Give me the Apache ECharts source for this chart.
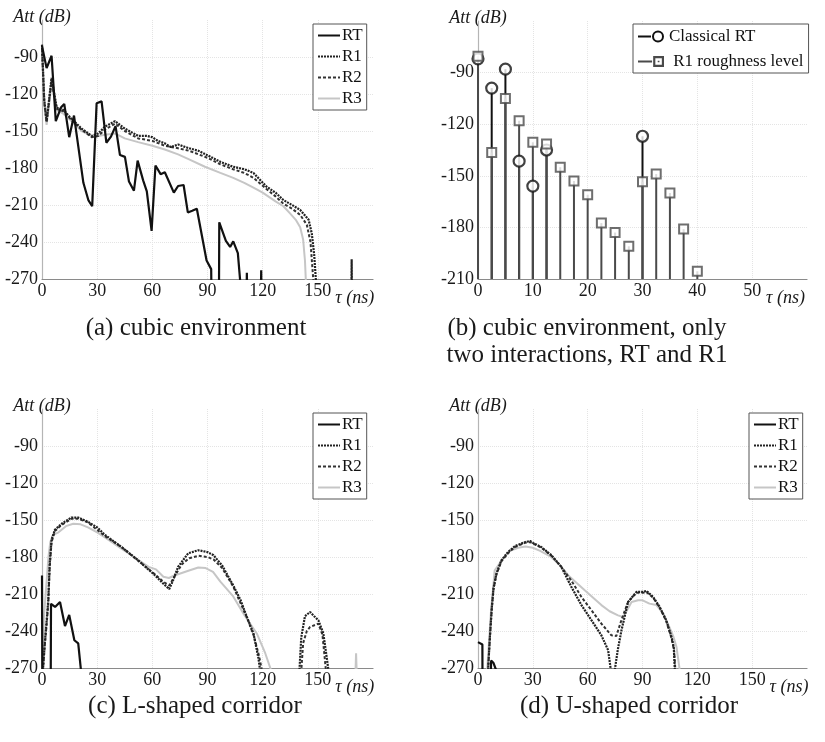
<!DOCTYPE html>
<html>
<head>
<meta charset="utf-8">
<script src="https://cdn.jsdelivr.net/npm/echarts@6/dist/echarts.min.js"></script>
<style>
  html, body { margin: 0; padding: 0; background: #fff; }
  #chart { width: 825px; height: 742px; }
</style>
</head>
<body>
<div id="chart"></div>
<script>
// (a) cubic environment  [tau ns, att dB]
const aRT = [[0,-81],[2.5,-99],[5.2,-89],[7.5,-142],[10.3,-131],[12.1,-128],[14.8,-155],[17.4,-137.5],[22.5,-192],[25.2,-206],[27.3,-211],[29.7,-127.5],[32.4,-126],[35,-159.5],[37.5,-154.6],[40,-146],[42.4,-169.5],[45.1,-171],[47.3,-191],[50,-198.4],[52,-174],[55,-190],[57,-199],[59.6,-231],[61.7,-178],[64.5,-185],[66.8,-183.5],[71.7,-200],[74,-194.6],[77,-193.8],[79.3,-216],[81.7,-214.6],[84.2,-213],[89.5,-255],[92,-262],[92.3,-300],[96.2,-300],[96.4,-224],[100,-239],[102.3,-244],[104,-239.5],[106.5,-249],[107.8,-272],[111.1,-300],[111.4,-265],[111.7,-300],[118.9,-300],[119.2,-263],[119.5,-300]];
const aR1 = [[0,-80],[1.2,-124],[2.5,-142],[5.2,-107],[8,-131],[11.6,-133],[16,-140],[21.5,-148],[27,-154],[30.6,-152],[34.2,-146.5],[39.7,-142],[45,-148],[52.3,-154],[57,-154],[60,-155],[63,-158],[66.8,-160],[70,-163],[74,-161],[80,-164],[85,-166],[90.4,-170],[97,-175],[104,-179],[110,-181],[115,-184],[122,-195],[127,-200],[131.3,-206],[136,-210],[140.4,-214],[145,-222],[146.7,-233],[148,-250],[149,-272],[168.2,-300],[168.4,-254],[168.6,-300]];
const aR2 = [[0,-83],[1.2,-126],[2.5,-143],[5.2,-109],[8,-132],[11.6,-134],[16,-141],[21.5,-149],[27,-155],[30.6,-154],[34.2,-149],[39.7,-144],[45,-150],[52.3,-156],[60,-158],[66.8,-162],[74,-164],[80,-166],[90.4,-172],[97,-177],[104,-181],[110,-184],[115,-188],[122,-197],[127,-203],[131.3,-209],[136,-213],[140.4,-218],[144,-226],[146,-240],[147.6,-272]];
const aR3 = [[0,-85],[1.2,-128],[2.5,-145],[5.2,-112],[8,-133],[11.6,-136],[16,-142],[21.5,-150],[27,-154],[30.6,-154],[34.2,-153],[39.7,-152],[45,-156],[52.3,-159],[60,-162],[66.8,-165],[74,-169],[80,-173],[88.6,-179],[97,-184],[104,-188],[110,-192],[115,-196],[120,-200],[127,-207],[131.3,-211],[135,-217],[138,-222],[140.4,-228],[142,-238],[143,-255],[143.5,-272]];

// (b) two interactions, stems
const bTauRT = [0, 2.5, 5, 7.5, 10, 12.5, 30];
const bAttRT = [-82, -99, -88, -141.5, -156, -135, -127];
const bTauR1 = [0, 2.5, 5, 7.5, 10, 12.5, 15, 17.5, 20, 22.5, 25, 27.5, 30, 32.5, 35, 37.5, 40];
const bAttR1 = [-80.5, -136.5, -105, -118, -130.5, -131.5, -145, -153, -161, -177.5, -183, -191, -153.5, -149, -160, -181, -205.5];

// (c) L-shaped corridor
const cRT = [[0,-195],[0.2,-300],[4.7,-300],[4.9,-218],[7.1,-220.5],[9.8,-216.5],[12.5,-236],[14.8,-227],[17.6,-247.5],[19.7,-250],[21.2,-272]];
const cR1 = [[0.5,-272],[1.5,-250],[2.5,-232],[3.4,-215],[4.2,-185],[5.2,-166],[7,-158],[10.7,-153],[16,-148],[19.7,-148],[25,-151.5],[30,-156],[34.2,-162],[43.3,-172],[52.3,-182.7],[61.4,-194.8],[65.9,-201.5],[69.2,-206],[71,-200],[74,-188],[79.5,-177],[85,-174.5],[90,-176],[93.3,-178.6],[98,-187],[104,-203],[108,-215],[111.4,-228.6],[115,-242],[117.7,-262],[118.6,-272],[140,-272],[141,-245],[143,-228],[145.8,-224.6],[148,-228],[150.3,-231.3],[153,-242],[154.5,-258],[155.8,-272]];
const cR2 = [[0.5,-272],[1.5,-252],[2.5,-235],[3.4,-218],[4.2,-188],[5.2,-168],[7,-159],[10.7,-154],[16,-149],[19.7,-149],[25,-152],[34.2,-163],[43.3,-172],[52.3,-183],[61.4,-194],[65.9,-200],[69.2,-203],[72,-196],[76,-186],[80,-181],[85,-179],[90,-180],[93.3,-182],[98,-189],[104,-204],[111.4,-229],[115,-243],[118,-260],[119.6,-272],[141,-272],[142,-250],[144,-240],[145.8,-236.7],[150.3,-234],[152.5,-243],[153.5,-258],[154.4,-272]];
const cR3 = [[0.3,-272],[1,-230],[2.5,-200],[3.5,-180],[4.5,-168],[6,-162],[9,-160],[13,-155],[17,-153],[21,-153.5],[25,-156],[30,-160],[34,-164],[43,-173],[52,-182],[58,-188],[62,-190],[66,-196],[69,-197],[72,-195],[76,-193],[80,-191],[85,-188.5],[89,-189],[93,-192],[97,-200],[104,-212],[110,-227],[116.8,-242],[121.4,-258],[124.6,-272],[170.5,-272],[170.8,-258],[171.1,-272]];

// (d) U-shaped corridor
const dRT = [[0,-249],[2.4,-251],[2.5,-300],[6.5,-300],[7.2,-264],[8.5,-266],[10,-272]];
const dR1 = [[5.5,-272],[6.5,-245],[7.5,-222],[8.5,-205],[10.1,-193.4],[12.8,-182.7],[16.4,-176],[20.1,-171.3],[25.6,-168],[28.5,-167],[30.1,-168.6],[34.7,-172],[40.2,-178.6],[45.6,-188],[51.1,-204.3],[56.6,-219],[62.1,-231.3],[67.5,-243.5],[71.2,-255.6],[72.7,-272],[74.8,-272],[76.5,-255],[78.5,-239.4],[82.1,-216.5],[86.7,-208.3],[90.3,-208.3],[92.2,-207.5],[95.8,-212.4],[99.4,-220.5],[103,-231.3],[105.9,-245],[107.1,-253],[107.7,-272]];
const dR2 = [[5.5,-272],[6.5,-246],[7.5,-223],[8.5,-206],[10.1,-194],[12.8,-183.5],[16.4,-177],[20.1,-172],[25.6,-168.5],[28.5,-168],[30.1,-169],[34.7,-172.5],[40.2,-179],[45.6,-188],[51,-199],[56.6,-212.4],[62,-223],[67.5,-234],[73,-243.5],[75.7,-244],[78.5,-231],[82.1,-216.5],[86.7,-209],[90.3,-209],[92.2,-208.5],[95.8,-213],[99.4,-221],[103,-232],[105.9,-246],[107.3,-256],[108,-272]];
const dR3 = [[5,-272],[6.2,-245],[7.2,-222],[8.3,-205],[9.1,-191],[12.8,-183],[17.4,-175],[22,-172.5],[26,-171.5],[30,-172.5],[34,-175],[40,-180],[45,-187],[49.3,-194.8],[54,-201],[58.4,-207],[63,-213],[67.5,-219],[72,-224],[76.6,-227.3],[79.4,-228.6],[82,-222],[84,-216.5],[87.6,-215],[89.8,-215],[93.8,-217.8],[97.6,-219],[101,-225],[104.5,-236],[107,-245],[108.6,-253],[110.4,-272]];

const serif = "'Liberation Serif', 'Times New Roman', serif";
const myChart = echarts.init(document.getElementById('chart'));

const grids = [
  {left: 42, top: 20, width: 331, height: 259},
  {left: 478, top: 21, width: 329, height: 258},
  {left: 42, top: 409, width: 331, height: 259},
  {left: 478, top: 409, width: 329, height: 259}
];

function xAxis(gridIndex, max, interval, nameGap) {
  return {
    type: 'value', gridIndex, min: 0, max, interval,
    axisLine: {show: true, onZero: false, lineStyle: {color: '#8a8a8a', width: 1.2}},
    axisTick: {show: false},
    axisLabel: {color: '#1a1a1a', fontFamily: serif, fontSize: 18, margin: 3, showMaxLabel: false},
    splitLine: {show: true, showMinLine: false, showMaxLine: false, lineStyle: {color: '#e4e4e4', type: 'dotted'}},
    name: 'τ (ns)', nameLocation: 'end', nameGap,
    nameTextStyle: {fontFamily: serif, fontStyle: 'italic', fontSize: 18, color: '#1a1a1a',
      align: 'left', verticalAlign: 'top', padding: [10, 0, 0, 0]}
  };
}

function yAxis(gridIndex, min) {
  return {
    type: 'value', gridIndex, min, max: -60, interval: 30,
    axisLine: {show: true, onZero: false, lineStyle: {color: '#b5b5b5', width: 1.2}},
    axisTick: {show: false},
    axisLabel: {color: '#1a1a1a', fontFamily: serif, fontSize: 18, margin: 4, showMaxLabel: false},
    splitLine: {show: true, showMinLine: false, showMaxLine: false, lineStyle: {color: '#e4e4e4', type: 'dotted'}},
    name: 'Att (dB)', nameLocation: 'end', nameGap: 3,
    nameTextStyle: {fontFamily: serif, fontStyle: 'italic', fontSize: 18, color: '#1a1a1a',
      align: 'center', verticalAlign: 'middle'}
  };
}

const styles = {
  RT: {color: '#111111', width: 2.2, type: 'solid'},
  R1: {color: '#222222', width: 2.2, type: [2, 1]},
  R2: {color: '#333333', width: 2, type: [3, 2]},
  R3: {color: '#c6c6c6', width: 2, type: 'solid'}
};

function curve(name, data, idx) {
  const s = styles[name];
  return {
    name, type: 'line', xAxisIndex: idx, yAxisIndex: idx, data,
    symbol: 'none', clip: true, silent: true,
    itemStyle: {color: s.color},
    lineStyle: {color: s.color, width: s.width, type: s.type}
  };
}

function stems(name, tau, att, color) {
  return {
    name, type: 'custom', xAxisIndex: 1, yAxisIndex: 1, silent: true,
    itemStyle: {color},
    data: tau.map((t, i) => [t, att[i]]),
    renderItem: function (params, api) {
      const top = api.coord([api.value(0), api.value(1)]);
      const base = api.coord([api.value(0), -210]);
      return {
        type: 'line',
        shape: {x1: top[0], y1: top[1], x2: base[0], y2: base[1]},
        style: {stroke: color, lineWidth: 2}
      };
    }
  };
}

// line legends: hide the centre symbol, keep the line pattern
const legendBase = {
  orient: 'vertical', itemGap: 4, itemWidth: 22, itemHeight: 16,
  padding: [3, 4, 3, 4], borderColor: '#555', borderWidth: 1, backgroundColor: '#fff',
  itemStyle: {opacity: 0},
  textStyle: {fontFamily: serif, fontSize: 17, color: '#111', padding: [0, 0, 0, -3]},
  selectedMode: false, data: ['RT', 'R1', 'R2', 'R3']
};

const circleIcon = 'path://M0,5H13V7H0Z M26,6A6,6 0 1,0 14,6A6,6 0 1,0 26,6Z M24,6A4,4 0 1,1 16,6A4,4 0 1,1 24,6Z';
const squareIcon = 'path://M0,5H13V7H0Z M14,1H24V11H14Z M16,3V9H22V3Z M18.2,5.2H19.8V6.8H18.2Z';

const captionStyle = {fontFamily: serif, fontSize: 25, fontWeight: 'normal', color: '#1a1a1a', lineHeight: 27};

const option = {
  animation: false,
  backgroundColor: '#fff',
  grid: grids,
  xAxis: [xAxis(0, 180, 30, -45), xAxis(1, 60, 10, -41), xAxis(2, 180, 30, -45), xAxis(3, 180, 30, -41)],
  yAxis: [yAxis(0, -270), yAxis(1, -210), yAxis(2, -270), yAxis(3, -270)],
  title: [
    {text: '(a) cubic environment', left: 196, top: 315, padding: 0, textAlign: 'center', textStyle: captionStyle},
    {text: '(b) cubic environment, only\ntwo interactions, RT and R1', left: 587, top: 315, padding: 0, textAlign: 'center', textStyle: captionStyle},
    {text: '(c) L-shaped corridor', left: 195, top: 693, padding: 0, textAlign: 'center', textStyle: captionStyle},
    {text: '(d) U-shaped corridor', left: 629, top: 693, padding: 0, textAlign: 'center', textStyle: captionStyle}
  ],
  legend: [
    Object.assign({}, legendBase, {left: 313, top: 24}),
    Object.assign({}, legendBase, {
      left: 633, top: 24, itemWidth: 26, itemHeight: 12, itemGap: 8, padding: [4, 5, 3, 5],
      itemStyle: {},
      textStyle: {fontFamily: serif, fontSize: 17, color: '#111'},
      data: [{name: 'Classical RT', icon: circleIcon}, {name: ' R1 roughness level', icon: squareIcon}]
    }),
    Object.assign({}, legendBase, {left: 313, top: 413}),
    Object.assign({}, legendBase, {left: 749, top: 413})
  ],
  series: [
    curve('R3', aR3, 0), curve('R2', aR2, 0), curve('R1', aR1, 0), curve('RT', aRT, 0),
    stems('Classical RT', bTauRT, bAttRT, '#111111'),
    stems(' R1 roughness level', bTauR1, bAttR1, '#4a4a4a'),
    {
      name: 'Classical RT', type: 'scatter', xAxisIndex: 1, yAxisIndex: 1, silent: true,
      symbol: 'circle', symbolSize: 11,
      itemStyle: {color: '#fff', borderColor: '#111', borderWidth: 2.2},
      data: bTauRT.map((t, i) => [t, bAttRT[i]])
    },
    {
      name: ' R1 roughness level', type: 'scatter', xAxisIndex: 1, yAxisIndex: 1, silent: true,
      symbol: 'rect', symbolSize: 9,
      itemStyle: {color: '#fff', borderColor: '#4a4a4a', borderWidth: 2},
      data: bTauR1.map((t, i) => [t, bAttR1[i]])
    },
    curve('R3', cR3, 2), curve('R2', cR2, 2), curve('R1', cR1, 2), curve('RT', cRT, 2),
    curve('R3', dR3, 3), curve('R2', dR2, 3), curve('R1', dR1, 3), curve('RT', dRT, 3)
  ]
};

option && myChart.setOption(option);
</script>
</body>
</html>
